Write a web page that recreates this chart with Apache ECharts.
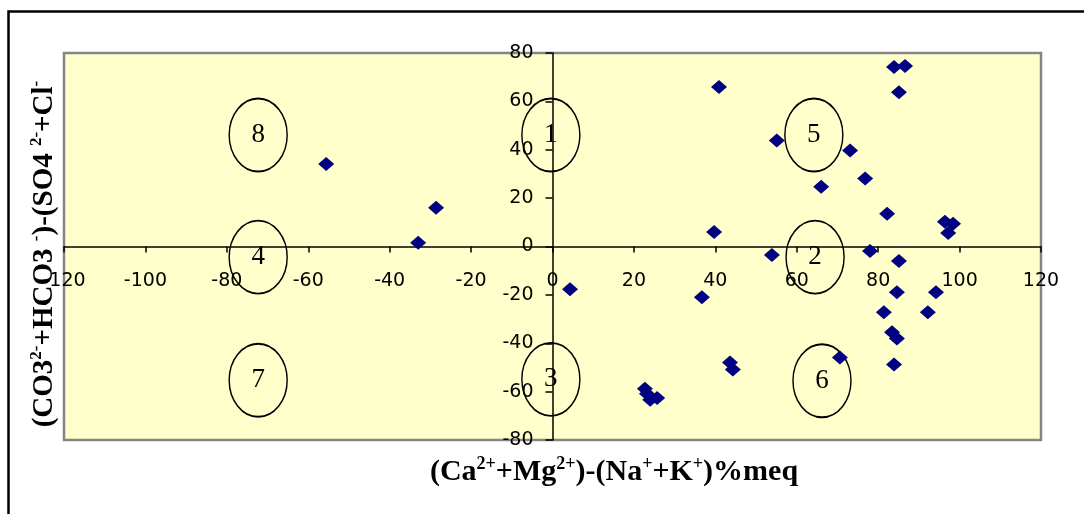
<!DOCTYPE html>
<html>
<head>
<meta charset="utf-8">
<script src="https://cdn.jsdelivr.net/npm/echarts/dist/echarts.min.js"></script>
<style>
html,body{margin:0;padding:0;background:#fff;}
#chart{width:1084px;height:514px;}
</style>
</head>
<body>
<div id="chart"></div>
<script>
// Sample points: x = (Ca+Mg)-(Na+K) %meq, y = (CO3+HCO3)-(SO4+Cl) %meq
var pointsX = [-55.6, -28.6, -33.0, 4.3, 40.9, 83.9, 86.6, 85.1, 55.1, 73.1, 76.8, 66.0, 82.2, 96.4, 98.4, 97.2, 39.7, 53.9, 78.0, 85.1, 84.6, 94.2, 36.7, 81.4, 92.2, 83.4, 84.6, 70.6, 43.6, 44.3, 83.9, 22.7, 23.2, 25.7, 24.0];
var pointsY = [34.1, 16.0, 1.5, -17.7, 65.9, 74.2, 74.6, 63.8, 43.8, 39.7, 28.1, 24.7, 13.5, 10.2, 9.4, 5.6, 6.0, -3.5, -1.9, -6.0, -18.9, -18.9, -21.0, -27.2, -27.2, -35.5, -38.0, -45.9, -48.0, -50.9, -48.8, -58.8, -60.9, -62.6, -63.4];

// Zone markers (ellipses with numbers)
var zoneLabels = ['8', '1', '5', '4', '2', '7', '3', '6'];
var zoneX = [-72.3, -0.4, 64.2, -72.3, 64.5, -72.3, -0.4, 66.2];
var zoneY = [46.1, 46.1, 46.1, -4.4, -4.4, -55.3, -54.9, -55.5];

// Axis ticks
var xMin = -120, xMax = 120, xStep = 20;
var yMin = -80, yMax = 80, yStep = 20;

var pointData = pointsX.map(function (x, i) { return [x, pointsY[i]]; });
var zoneData = zoneLabels.map(function (t, i) { return [zoneX[i], zoneY[i], t]; });

var chart = echarts.init(document.getElementById('chart'), null, {renderer: 'canvas'});

var supStyleX = {fontFamily: 'Liberation Serif', fontWeight: 'bold', fontSize: 18, verticalAlign: 'top', lineHeight: 34, fill: '#000'};
var supStyleY = {fontFamily: 'Liberation Serif', fontWeight: 'bold', fontSize: 17, verticalAlign: 'top', lineHeight: 34, fill: '#000'};

var option = {
  animation: false,
  backgroundColor: '#ffffff',
  grid: {
    left: 64, right: 43, top: 53, bottom: 74,
    show: true,
    backgroundColor: '#FFFFCC',
    borderColor: '#858585',
    borderWidth: 2.5
  },
  xAxis: {
    type: 'value',
    position: 'bottom',
    offset: 0,
    min: xMin, max: xMax, interval: xStep,
    axisLine: {onZero: false, lineStyle: {color: '#000', width: 1.5}},
    axisTick: {show: true, length: 6, lineStyle: {color: '#000', width: 1.5}},
    axisLabel: {color: '#000', fontFamily: 'DejaVu Sans', fontSize: 19, margin: 25},
    splitLine: {show: false}
  },
  yAxis: {
    type: 'value',
    position: 'left',
    offset: 0,
    min: yMin, max: yMax, interval: yStep,
    axisLine: {onZero: false, lineStyle: {color: '#000', width: 1.5}},
    axisTick: {show: true, length: 7, lineStyle: {color: '#000', width: 1.5}},
    axisLabel: {color: '#000', fontFamily: 'DejaVu Sans', fontSize: 19, margin: 19},
    splitLine: {show: false}
  },
  series: [
    {
      type: 'scatter',
      data: zoneData,
      symbol: 'circle',
      symbolSize: [58, 73],
      silent: true,
      itemStyle: {color: 'rgba(0,0,0,0)', borderColor: '#000', borderWidth: 1.6, opacity: 1},
      label: {
        show: true, position: 'inside',
        formatter: function (p) { return p.data[2]; },
        color: '#000', fontFamily: 'Liberation Serif', fontSize: 27
      },
      z: 2
    },
    {
      type: 'scatter',
      data: pointData,
      symbol: 'diamond',
      symbolSize: [16, 14],
      itemStyle: {color: '#000080', opacity: 1},
      z: 3
    }
  ],
  graphic: [
    {
      type: 'rect',
      shape: {x: 8.5, y: 11.5, width: 1200, height: 600},
      style: {fill: 'none', stroke: '#000', lineWidth: 2.5},
      silent: true
    },
    {
      type: 'text',
      x: 614, y: 472,
      style: {
        text: '(Ca{sup|2+}+Mg{sup|2+})-(Na{sup|+}+K{sup|+})%meq',
        fontFamily: 'Liberation Serif', fontWeight: 'bold', fontSize: 30,
        fill: '#000', align: 'center', verticalAlign: 'middle',
        rich: {sup: supStyleX}
      }
    },
    {
      type: 'text',
      x: 45, y: 254,
      rotation: Math.PI / 2,
      style: {
        text: '(CO3{sup|2-}+HCO3 {sup|-})-(SO4 {sup|2-}+Cl{sup|-}',
        fontFamily: 'Liberation Serif', fontWeight: 'bold', fontSize: 29,
        fill: '#000', align: 'center', verticalAlign: 'middle',
        rich: {sup: supStyleY}
      }
    }
  ]
};
chart.setOption(option);

// Move both axes (line, ticks and labels) onto the other axis's zero, using the chart's own scales
var origin = chart.convertToPixel({gridIndex: 0}, [0, 0]);
var gridRect = chart.getModel().getComponent('grid', 0).coordinateSystem.getRect();
chart.setOption({
  xAxis: {offset: -(gridRect.y + gridRect.height - origin[1])},
  yAxis: {offset: -(origin[0] - gridRect.x)}
});
</script>
</body>
</html>
